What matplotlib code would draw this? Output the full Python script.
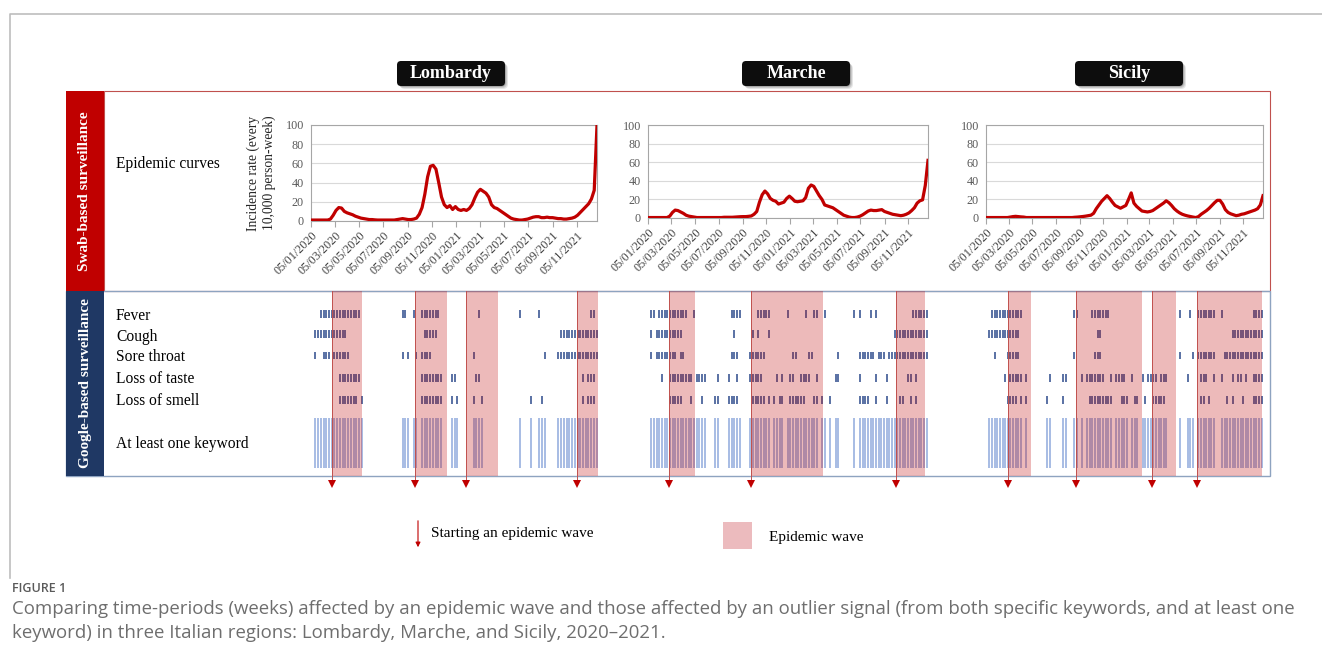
import numpy as np
import pandas as pd
import matplotlib
matplotlib.use("Agg")
import matplotlib.pyplot as plt
from matplotlib.patches import Rectangle, FancyBboxPatch

# ==========================[Data]=============================

W, H = 1322, 664
SERIF = "Liberation Serif"

regions = ["Lombardy", "Marche", "Sicily"]
keywords = ["Fever", "Cough", "Sore throat", "Loss of taste", "Loss of smell"]
tick_labels = ["05/01/2020", "05/03/2020", "05/05/2020", "05/07/2020",
               "05/09/2020", "05/11/2020", "05/01/2021", "05/03/2021",
               "05/05/2021", "05/07/2021", "05/09/2021", "05/11/2021"]

weeks = pd.date_range("2020-01-05", periods=104, freq="7D")

# weekly incidence rate (every 10,000 person-week)
lombardy_curve = [1, 1, 1, 1, 1, 1, 1, 2, 6, 11, 14, 13.5, 10, 8.5, 7.5, 6.5,
                  5, 4, 3, 2.5, 2, 1.5, 1.5, 1.2, 1, 1, 1, 1, 1, 1, 1, 1.5,
                  2, 2.5, 2, 1.5, 1.5, 2, 3, 7, 14, 28, 46, 57, 58, 54,
                  40, 25, 17, 14, 16, 12, 15, 12, 11, 12, 11, 13, 17, 24, 30, 33,
                  31, 29, 25, 17, 14, 13, 11, 9, 7, 5, 3, 2, 1.5, 1, 1, 1.5,
                  2, 3, 4, 4.5, 4.5, 3.5, 3.5, 4, 3.5, 3.5, 3, 2.5, 2.5, 2, 2, 2.5,
                  3, 4, 6, 9, 12, 15, 18, 23, 32, 100]
marche_curve = [0.5, 0.5, 0.5, 0.5, 0.5, 0.5, 0.5, 0.5, 2, 6, 8.5, 8, 6.5, 5, 3, 2,
                1.5, 1, 0.5, 0.5, 0.5, 0.5, 0.5, 0.5, 0.5, 0.5, 0.5, 0.5, 0.8, 0.8, 0.8, 0.8,
                1, 1.2, 1.4, 1.5, 1.5, 1.8, 2.2, 4, 7, 17, 25, 29, 26, 21,
                19, 18, 15, 16, 17, 21, 23.5, 21, 18, 17.5, 18, 18.5, 22, 32, 35.5, 34,
                29, 24, 20, 14, 13, 12, 11, 9, 7, 5, 3, 2, 1, 0.5, 0.5, 1,
                2, 3.5, 5.5, 7.5, 8.5, 8, 8, 8.5, 9, 7, 6, 5, 4, 3.5, 3, 2.5,
                3, 4, 5.5, 8, 11, 16, 18.5, 19.5, 35, 62]
sicily_curve = [0.5, 0.5, 0.5, 0.5, 0.5, 0.5, 0.5, 0.5, 0.5, 1, 1.5, 1.8, 1.5, 1.2, 1, 0.5,
                0.5, 0.5, 0.5, 0.5, 0.5, 0.5, 0.5, 0.5, 0.5, 0.5, 0.5, 0.5, 0.5, 0.5, 0.5, 0.5,
                0.5, 0.8, 1, 1.3, 1.6, 2, 2.5, 3, 5, 10, 14, 18, 21, 24,
                21, 17, 13.5, 12, 10.5, 12, 13.5, 20, 27, 16, 12.5, 10, 7.5, 7, 6.5, 7,
                8, 10, 12, 14, 16, 18.5, 16.5, 13.5, 10, 7.5, 5.5, 4, 3, 2.2, 1.6, 1,
                0.5, 1.5, 4, 6, 8, 10.5, 13.5, 16.5, 19, 19, 15, 9, 6, 4.5, 3.5, 2.5,
                3, 4, 4.5, 5.5, 6.5, 7.5, 8.5, 10, 14, 24]

# epidemic waves (start week, end week)
lombardy_waves = [(6.5, 17.7), (37.1, 48.8), (55.6, 67.3), (96.2, 103.9)]
marche_waves = [(7.0, 16.8), (37.9, 64.6), (92.0, 103.0)]
sicily_waves = [(7.6, 16.4), (33.4, 58.3), (62.2, 71.0), (79.1, 103.8)]

# outlier weeks per keyword, as runs (first week, last week)
lombardy_fever = [(2, 16), (32, 33), (36, 36), (39, 45), (60, 60), (75, 75), (82, 82), (101, 102)]
lombardy_cough = [(0, 11), (40, 44), (90, 103)]
lombardy_throat = [(0, 0), (3, 5), (7, 12), (32, 32), (34, 34), (37, 37), (39, 42), (58, 58),
                   (84, 84), (89, 103)]
lombardy_taste = [(9, 16), (39, 46), (50, 51), (59, 60), (98, 98), (100, 102)]
lombardy_smell = [(9, 15), (17, 17), (39, 46), (50, 50), (52, 52), (58, 58), (61, 61), (79, 79),
                  (83, 83), (98, 98), (100, 102)]

marche_fever = [(0, 1), (3, 13), (16, 16), (30, 33), (40, 44), (51, 51), (58, 58), (61, 62),
                (65, 65), (76, 76), (78, 78), (82, 82), (84, 84), (98, 103)]
marche_cough = [(0, 0), (2, 11), (31, 31), (38, 38), (40, 40), (44, 44), (91, 103)]
marche_throat = [(0, 0), (2, 9), (11, 12), (30, 32), (37, 42), (53, 54), (59, 60), (70, 70),
                 (78, 83), (85, 87), (89, 103)]
marche_taste = [(4, 4), (7, 15), (17, 20), (25, 25), (29, 29), (32, 32), (37, 41), (47, 47),
                (49, 49), (52, 53), (56, 59), (62, 62), (69, 70), (78, 78), (84, 84), (88, 88),
                (96, 97), (99, 99)]
marche_smell = [(7, 11), (15, 15), (19, 19), (24, 25), (29, 32), (38, 42), (44, 44), (46, 46),
                (48, 49), (52, 57), (61, 62), (64, 64), (67, 67), (78, 81), (84, 84), (88, 88),
                (93, 94), (97, 97), (99, 99)]

sicily_fever = [(1, 12), (32, 33), (39, 45), (72, 72), (76, 76), (79, 85), (88, 88), (100, 103)]
sicily_cough = [(0, 11), (41, 42), (92, 103)]
sicily_throat = [(2, 2), (7, 11), (32, 32), (40, 42), (72, 72), (77, 77), (79, 85), (89, 103)]
sicily_taste = [(6, 6), (8, 12), (14, 14), (23, 23), (28, 29), (35, 35), (37, 43), (46, 46),
                (48, 51), (54, 54), (58, 58), (60, 63), (65, 67), (75, 75), (80, 82), (85, 85),
                (88, 88), (92, 92), (94, 95), (97, 97), (100, 103)]
sicily_smell = [(7, 10), (12, 12), (14, 14), (22, 22), (28, 28), (38, 46), (50, 52), (55, 56),
                (59, 59), (62, 66), (80, 81), (83, 83), (90, 90), (92, 92), (96, 96), (100, 103)]

curves = [lombardy_curve, marche_curve, sicily_curve]
waves = [lombardy_waves, marche_waves, sicily_waves]
signals = [
    [lombardy_fever, lombardy_cough, lombardy_throat, lombardy_taste, lombardy_smell],
    [marche_fever, marche_cough, marche_throat, marche_taste, marche_smell],
    [sicily_fever, sicily_cough, sicily_throat, sicily_taste, sicily_smell],
]

# ==========================[Layout (pixels)]=============================

chart_boxes = [(311, 125, 597, 221), (648, 125, 928, 218), (986, 125, 1263, 218)]
google_spans = [(314, 598), (650, 928), (988, 1263)]
title_centers = [451, 796, 1129]
row_y = [314, 334, 355.5, 378, 400]
label_y = [315, 336, 356, 378, 400]

fig = plt.figure(figsize=(W / 100, H / 100), dpi=100)
bg = fig.add_axes([0, 0, 1, 1])
bg.set_xlim(0, W)
bg.set_ylim(H, 0)
bg.axis("off")


def px_axes(x0, y0, x1, y1):
    return fig.add_axes([x0 / W, 1 - y1 / H, (x1 - x0) / W, (y1 - y0) / H])


def expand(runs):
    out = []
    for a, b in runs:
        out.extend(range(a, b + 1))
    return out


# card border
bg.plot([10, 10, W], [578, 14, 14], color="#BDBDBD", lw=1.2)

# section frames
bg.add_patch(Rectangle((104, 91), 1166, 200, fill=False, ec="#C0504D", lw=0.8))
bg.add_patch(Rectangle((66, 291), 1204, 185, fill=False, ec="#8EA3C0", lw=1.0))
bg.add_patch(Rectangle((66, 91), 38, 200, color="#C00000", lw=0))
bg.add_patch(Rectangle((66, 291), 38, 185, color="#1F3864", lw=0))
bg.text(85, 191, "Swab-based surveillance", rotation=90, color="white", fontweight="bold",
        family=SERIF, fontsize=11, ha="center", va="center")
bg.text(85, 383, "Google-based surveillance", rotation=90, color="white", fontweight="bold",
        family=SERIF, fontsize=11, ha="center", va="center")

# row labels
bg.text(116, 164, "Epidemic curves", family=SERIF, fontsize=11.2, va="center")
for name, y in zip(keywords, label_y):
    bg.text(116, y + 1, name, family=SERIF, fontsize=11.2, va="center")
bg.text(116, 444, "At least one keyword", family=SERIF, fontsize=11.2, va="center")

# region title boxes
for name, cx in zip(regions, title_centers):
    for k, a in enumerate([0.10, 0.12, 0.16]):
        off = 3 - k
        bg.add_patch(FancyBboxPatch((cx - 54 + off, 61 + off), 108, 25,
                                    boxstyle="round,pad=0,rounding_size=5",
                                    fc="#000000", ec="none", alpha=a))
    bg.add_patch(FancyBboxPatch((cx - 54, 61), 108, 25, boxstyle="round,pad=0,rounding_size=4",
                                fc="#0D0D0D", ec="none"))
    bg.text(cx, 74, name, color="white", fontweight="bold", family=SERIF, fontsize=13,
            ha="center", va="center")

# ==========================[Epidemic curves]=============================

ticks = pd.to_datetime(tick_labels, dayfirst=True)
for i, (curve, box) in enumerate(zip(curves, chart_boxes)):
    ax = px_axes(*box)
    ax.plot(weeks, curve, color="#C00000", lw=2.3, solid_joinstyle="round", zorder=3)
    ax.set_xlim(weeks[0], weeks[-1])
    ax.set_ylim(0, 100)
    ax.set_yticks(range(0, 101, 20))
    ax.grid(axis="y", color="#D9D9D9", lw=0.8)
    ax.set_xticks(ticks)
    ax.set_xticklabels(tick_labels, rotation=45, ha="right", rotation_mode="anchor",
                       fontsize=8.7, family=SERIF, color="#404040")
    for lab in ax.get_yticklabels():
        lab.set_family(SERIF)
    ax.tick_params(axis="x", length=4, color="#A6A6A6", pad=2)
    ax.tick_params(axis="y", length=0, labelsize=8.7, labelcolor="#595959", pad=5)
    for s in ax.spines.values():
        s.set_color("#A6A6A6")
        s.set_linewidth(0.8)
    if i == 0:
        ax.set_ylabel("Incidence rate (every\n10,000 person-week)", family=SERIF,
                      fontsize=9.8, color="#262626", labelpad=7, linespacing=1.2)

# ==========================[Google signals]=============================

for rows, wv, (x0, x1) in zip(signals, waves, google_spans):
    gax = px_axes(x0, 291, x1, 476)
    gax.set_xlim(0, 104)
    gax.set_ylim(476, 291)
    gax.axis("off")
    union = set()
    for runs, y in zip(rows, row_y):
        wk = expand(runs)
        union.update(wk)
        gax.vlines(np.array(wk) + 0.5, y - 3.8, y + 3.8, color="#2C4A8C", lw=1.1)
    union = sorted(union)
    gax.vlines(np.array(union) + 0.5, 418, 468, color="#8FAADC", lw=1.1)
    for s, e in wv:
        gax.axvspan(s, e, color="#C00000", alpha=0.27, lw=0, zorder=3)
        gax.plot([s, s], [291, 481], color="#C0504D", lw=0.7, clip_on=False, zorder=4)
        gax.plot([s], [484], marker="v", color="#C00000", ms=5.5, mew=0, clip_on=False, zorder=4)

# ==========================[Legend & caption]=============================

bg.annotate("", xy=(418, 550), xytext=(418, 518),
            arrowprops=dict(arrowstyle="-|>", color="#C00000", lw=0.8, mutation_scale=7))
bg.text(431, 533, "Starting an epidemic wave", family=SERIF, fontsize=11, va="center")
bg.add_patch(Rectangle((723, 522), 29, 27, color="#ECBBBE", lw=0))
bg.text(769, 538, "Epidemic wave", family=SERIF, fontsize=11, va="center")

bg.text(12, 588, "FIGURE 1", family="Open Sans", fontsize=9, fontweight="semibold",
        color="#5A5A5A", va="center")
bg.text(12, 609, "Comparing time-periods (weeks) affected by an epidemic wave and those affected "
        "by an outlier signal (from both specific keywords, and at least one",
        family="Open Sans", fontsize=13.4, color="#6E6E6E", va="center")
bg.text(12, 633, "keyword) in three Italian regions: Lombardy, Marche, and Sicily, 2020\u20132021.",
        family="Open Sans", fontsize=13.4, color="#6E6E6E", va="center")

fig.savefig("out.png", dpi=100)
